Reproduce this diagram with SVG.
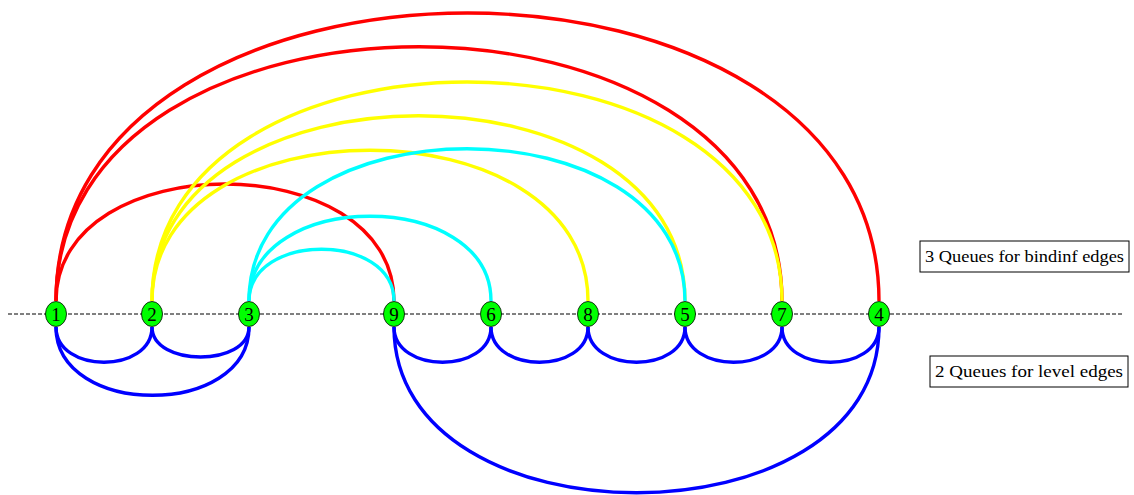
<svg xmlns="http://www.w3.org/2000/svg" width="1134" height="495" viewBox="0 0 1134 495">
<style>
.e{fill:none;stroke-width:3.4}
.r{stroke:#ff0000}.y{stroke:#ffff00}.c{stroke:#00ffff}.b{stroke:#0000ff}
.n{fill:#00ff00;stroke:#000;stroke-width:0.8}
.t{font-family:"Liberation Serif","DejaVu Serif",serif;font-size:19px;fill:#000;text-anchor:middle}
.lbl{font-family:"Liberation Serif","DejaVu Serif",serif;font-size:17px;fill:#000;text-anchor:middle}
.box{fill:#fff;stroke:#000;stroke-width:1}
</style>
<rect width="1134" height="495" fill="#fff"/>
<line x1="8" y1="314" x2="1122" y2="314" stroke="#000" stroke-width="1" stroke-dasharray="4 2"/>
<g id="connectors">
<path class="e r" d="M56 301 C56 -83 879 -83 879 301"/>
<path class="e r" d="M56 301 C56 -38 782 -38 782 301"/>
<path class="e r" d="M56 301 C56 145 394 145 394 301"/>
<path class="e y" d="M152 301 C152 9 782 9 782 301"/>
<path class="e y" d="M152 301 C152 54 685 54 685 301"/>
<path class="e y" d="M152 301 C152 100 588 100 588 301"/>
<path class="e c" d="M249 301 C249 98 685 98 685 301"/>
<path class="e c" d="M249 301 C249 188 491 188 491 301"/>
<path class="e c" d="M249 301 C249 232 394 232 394 301"/>
<path class="e b" d="M56 327 C56 374 152 374 152 327"/>
<path class="e b" d="M152 327 C152 367 249 367 249 327"/>
<path class="e b" d="M56 327 C56 418 249 418 249 327"/>
<path class="e b" d="M394 327 C394 374 491 374 491 327"/>
<path class="e b" d="M491 327 C491 374 588 374 588 327"/>
<path class="e b" d="M588 327 C588 374 685 374 685 327"/>
<path class="e b" d="M685 327 C685 374 782 374 782 327"/>
<path class="e b" d="M782 327 C782 374 879 374 879 327"/>
<path class="e b" d="M394 327 C394 548 879 548 879 327"/>
</g>
<g id="n1"><ellipse class="n" cx="56" cy="314" rx="10.5" ry="12.5"/><text class="t" x="56" y="320.5">1</text></g>
<g id="n2"><ellipse class="n" cx="152" cy="314" rx="10.5" ry="12.5"/><text class="t" x="152" y="320.5">2</text></g>
<g id="n3"><ellipse class="n" cx="249" cy="314" rx="10.5" ry="12.5"/><text class="t" x="249" y="320.5">3</text></g>
<g id="n9"><ellipse class="n" cx="394" cy="314" rx="10.5" ry="12.5"/><text class="t" x="394" y="320.5">9</text></g>
<g id="n6"><ellipse class="n" cx="491" cy="314" rx="10.5" ry="12.5"/><text class="t" x="491" y="320.5">6</text></g>
<g id="n8"><ellipse class="n" cx="588" cy="314" rx="10.5" ry="12.5"/><text class="t" x="588" y="320.5">8</text></g>
<g id="n5"><ellipse class="n" cx="685" cy="314" rx="10.5" ry="12.5"/><text class="t" x="685" y="320.5">5</text></g>
<g id="n7"><ellipse class="n" cx="782" cy="314" rx="10.5" ry="12.5"/><text class="t" x="782" y="320.5">7</text></g>
<g id="n4"><ellipse class="n" cx="879" cy="314" rx="10.5" ry="12.5"/><text class="t" x="879" y="320.5">4</text></g>
<g id="label-bindinf"><rect class="box" x="920" y="241" width="209" height="31"/><text class="lbl" x="1024.5" y="262" textLength="199" lengthAdjust="spacingAndGlyphs">3 Queues for bindinf edges</text></g>
<g id="label-level"><rect class="box" x="930" y="356" width="198" height="31"/><text class="lbl" x="1029" y="377" textLength="188" lengthAdjust="spacingAndGlyphs">2 Queues for level edges</text></g>
</svg>
